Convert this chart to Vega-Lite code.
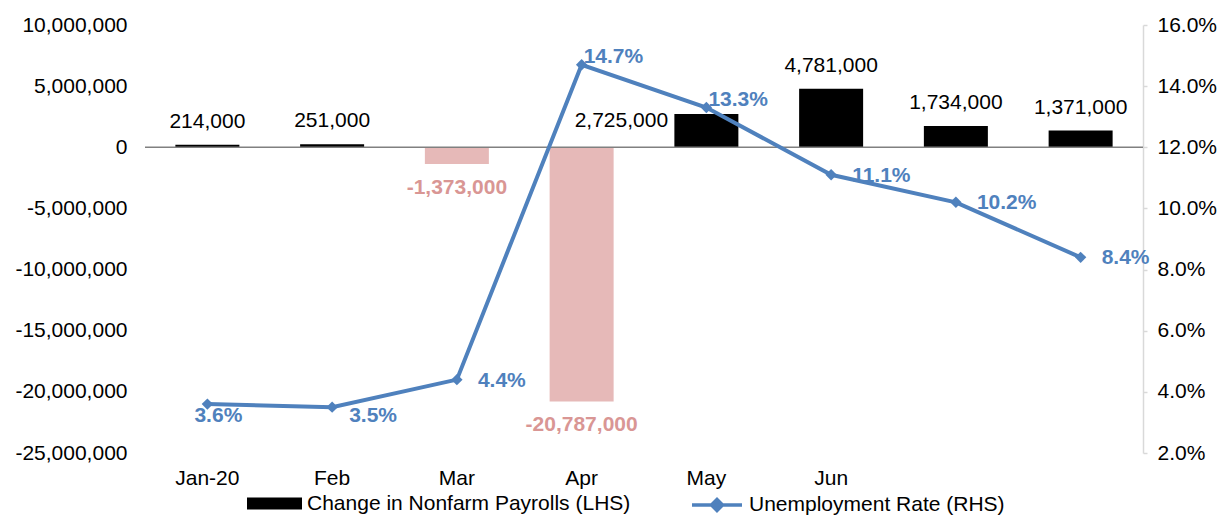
{
  "$schema": "https://vega.github.io/schema/vega-lite/v6.json",
  "width": 998,
  "height": 428,
  "autosize": "none",
  "padding": {"left": 145, "top": 25, "right": 80, "bottom": 63},
  "config": {
    "font": "Liberation Sans",
    "locale": {"number": {"decimal": ".", "thousands": ",", "grouping": [3], "currency": ["$", ""], "minus": "-"}},
    "view": {"stroke": null},
    "axis": {"labelFont": "Liberation Sans", "labelFontSize": 21, "labelColor": "#000000", "grid": false, "title": null},
    "legend": {"labelFont": "Liberation Sans", "labelFontSize": 21, "labelColor": "#000000", "labelLimit": 600, "title": null, "orient": "none", "labelOffset": 5}
  },
  "data": {
    "values": [
      {"month": "Jan-20", "payrolls": 214000, "rate": 0.036},
      {"month": "Feb", "payrolls": 251000, "rate": 0.035},
      {"month": "Mar", "payrolls": -1373000, "rate": 0.044},
      {"month": "Apr", "payrolls": -20787000, "rate": 0.147},
      {"month": "May", "payrolls": 2725000, "rate": 0.133},
      {"month": "Jun", "payrolls": 4781000, "rate": 0.111},
      {"month": "Jul", "payrolls": 1734000, "rate": 0.102},
      {"month": "Aug", "payrolls": 1371000, "rate": 0.084}
    ]
  },
  "encoding": {
    "x": {
      "field": "month",
      "type": "nominal",
      "sort": ["Jan-20", "Feb", "Mar", "Apr", "May", "Jun", "Jul", "Aug"],
      "scale": {"paddingInner": 0.487, "paddingOuter": 0.2435},
      "axis": {"domain": false, "ticks": false, "labelAngle": 0, "labelPadding": 14, "labelExpr": "datum.value == 'Jul' || datum.value == 'Aug' ? '' : datum.label"}
    }
  },
  "layer": [
    {
      "encoding": {
        "y": {
          "field": "payrolls",
          "type": "quantitative",
          "scale": {"domain": [-25000000, 10000000], "nice": false},
          "axis": {"orient": "left", "values": [-25000000, -20000000, -15000000, -10000000, -5000000, 0, 5000000, 10000000], "labelExpr": "format(datum.value, ',')", "domain": false, "ticks": false, "labelPadding": 18}
        }
      },
      "layer": [
        {
          "mark": {"type": "bar"},
          "encoding": {
            "fill": {
              "datum": "Change in Nonfarm Payrolls (LHS)",
              "condition": {"test": "datum.payrolls < 0", "value": "#E6B9B8"},
              "scale": {"range": ["#000000"]},
              "legend": {"symbolType": "M-1,-0.22H1V0.22H-1Z", "symbolSize": 3025, "symbolStrokeWidth": 0, "legendX": 102, "legendY": 451}
            }
          }
        },
        {
          "transform": [{"filter": "datum.month == 'Jan-20'"}],
          "mark": {"type": "rule", "color": "#808080", "strokeWidth": 1.5},
          "encoding": {"y": {"datum": 0, "type": "quantitative"}, "x": null}
        },
        {
          "transform": [{"filter": "datum.payrolls > 0 && datum.month != 'May'"}],
          "mark": {"type": "text", "fontSize": 21, "color": "#000000", "baseline": "middle", "dy": -23},
          "encoding": {"text": {"field": "payrolls", "type": "quantitative", "format": ","}}
        },
        {
          "transform": [{"filter": "datum.month == 'May'"}],
          "mark": {"type": "text", "fontSize": 21, "color": "#000000", "baseline": "middle", "dx": -85, "dy": 7},
          "encoding": {"text": {"field": "payrolls", "type": "quantitative", "format": ","}}
        },
        {
          "transform": [{"filter": "datum.payrolls < 0"}],
          "mark": {"type": "text", "fontSize": 21, "fontWeight": "bold", "color": "#D99694", "baseline": "middle", "dy": 24},
          "encoding": {"text": {"field": "payrolls", "type": "quantitative", "format": ","}}
        }
      ]
    },
    {
      "encoding": {
        "y": {
          "field": "rate",
          "type": "quantitative",
          "scale": {"domain": [0.02, 0.16], "nice": false, "zero": false},
          "axis": {"orient": "right", "values": [0.02, 0.04, 0.06, 0.08, 0.1, 0.12, 0.14, 0.16], "format": ".1%", "domain": true, "domainColor": "#D9D9D9", "domainWidth": 1.5, "ticks": true, "tickColor": "#D9D9D9", "tickSize": 4, "tickWidth": 1.5, "labelPadding": 10}
        }
      },
      "layer": [
        {
          "mark": {"type": "line", "strokeWidth": 4},
          "encoding": {
            "stroke": {
              "datum": "Unemployment Rate (RHS)",
              "scale": {"range": ["#4F81BD"]},
              "legend": {"symbolType": "M-1,0H1M-0.22,0L0,-0.22L0.22,0L0,0.22Z", "symbolSize": 2500, "symbolStrokeWidth": 3.5, "symbolStrokeColor": "#4F81BD", "symbolFillColor": "#4F81BD", "symbolOpacity": 1, "legendX": 545, "legendY": 453}
            }
          }
        },
        {
          "mark": {"type": "point", "shape": "diamond", "filled": true, "color": "#4F81BD", "size": 130, "opacity": 1}
        },
        {
          "transform": [{"filter": "indexof(['Mar','Jun','Jul','Aug'], datum.month) >= 0"}],
          "mark": {"type": "text", "fontSize": 21, "fontWeight": "bold", "color": "#4F81BD", "align": "left", "baseline": "middle", "dx": 21, "dy": 1},
          "encoding": {"text": {"field": "rate", "type": "quantitative", "format": ".1%"}}
        },
        {
          "transform": [{"filter": "datum.month == 'Apr' || datum.month == 'May'"}],
          "mark": {"type": "text", "fontSize": 21, "fontWeight": "bold", "color": "#4F81BD", "align": "left", "baseline": "middle", "dx": 2, "dy": -8},
          "encoding": {"text": {"field": "rate", "type": "quantitative", "format": ".1%"}}
        },
        {
          "transform": [{"filter": "datum.month == 'Jan-20'"}],
          "mark": {"type": "text", "fontSize": 21, "fontWeight": "bold", "color": "#4F81BD", "align": "center", "baseline": "middle", "dx": 11, "dy": 12},
          "encoding": {"text": {"field": "rate", "type": "quantitative", "format": ".1%"}}
        },
        {
          "transform": [{"filter": "datum.month == 'Feb'"}],
          "mark": {"type": "text", "fontSize": 21, "fontWeight": "bold", "color": "#4F81BD", "align": "left", "baseline": "middle", "dx": 17, "dy": 9},
          "encoding": {"text": {"field": "rate", "type": "quantitative", "format": ".1%"}}
        }
      ]
    }
  ],
  "resolve": {"scale": {"y": "independent"}}
}
